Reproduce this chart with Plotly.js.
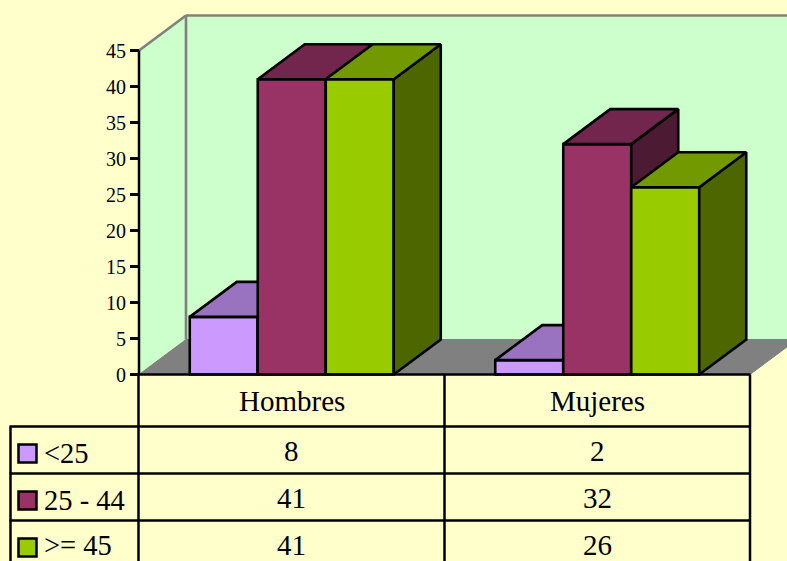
<!DOCTYPE html>
<html>
<head>
<meta charset="utf-8">
<script src="https://cdn.plot.ly/plotly-3.0.1.min.js"></script>
<style>html,body{margin:0;padding:0;background:#FFFFCC;overflow:hidden}</style>
</head>
<body>
<div id="chart" style="width:787px;height:561px"></div>
<script>
// Data
const categories = ['Hombres', 'Mujeres'];
const seriesNames = ['<25', '25 - 44', '>= 45'];
const under25 = [8, 2];
const from25to44 = [41, 32];
const over45 = [41, 26];
const yTicks = [0, 5, 10, 15, 20, 25, 30, 35, 40, 45];

// Colours
const frontColors = ['#CC99FF', '#993366', '#99CC00'];
const topColors = ['#9973BF', '#73264D', '#739900'];
const sideColors = ['#664D80', '#4D1A33', '#4D6600'];

// Geometry of the page
const W = 787, H = 561, FONT = '"Liberation Serif", "Times New Roman", serif';
const X0PX = 139, XPX = 305.5, Y0PX = 374.5, YPX = 7.2;
const BAR = 68 / XPX, DX = 47 / XPX, DY = 35 / YPX, YMAX = 45;
const xRange = [-X0PX / XPX, (W - X0PX) / XPX];
const yRange = [-(H - Y0PX) / YPX, Y0PX / YPX];
const NC = categories.length;
const px = x => x / W, py = y => 1 - y / H;

const allSeries = [under25, from25to44, over45];
const traces = [];
allSeries.forEach((vals, s) => {
  const suffix = s === 0 ? '' : String(s + 1);
  const xa = 'x' + suffix, ya = 'y' + suffix;
  const left = vals.map((v, c) => c + 0.5 + (s - 1.5) * BAR);
  const topX = [], topY = [], sideX = [], sideY = [];
  vals.forEach((v, c) => {
    const a = left[c], b = a + BAR;
    topX.push(a, a + DX, b + DX, b, a, null);
    topY.push(v, v + DY, v + DY, v, v, null);
    sideX.push(b, b + DX, b + DX, b, b, null);
    sideY.push(0, DY, v + DY, v, 0, null);
  });
  traces.push({
    type: 'bar', name: seriesNames[s], x: left.map(a => a + BAR / 2), y: vals, width: BAR,
    xaxis: xa, yaxis: ya, marker: {color: frontColors[s], line: {color: '#000', width: 2.6}},
    showlegend: false, hoverinfo: 'name+y'
  });
  traces.push({type: 'scatter', mode: 'lines', x: sideX, y: sideY, fill: 'toself', fillcolor: sideColors[s],
    line: {color: '#000', width: 2.6}, xaxis: xa, yaxis: ya, showlegend: false, hoverinfo: 'skip'});
  traces.push({type: 'scatter', mode: 'lines', x: topX, y: topY, fill: 'toself', fillcolor: topColors[s],
    line: {color: '#000', width: 2.6}, xaxis: xa, yaxis: ya, showlegend: false, hoverinfo: 'skip'});
});

// Walls and floor, in axis units
const poly = pts => 'M' + pts.map(p => p[0] + ',' + p[1]).join('L') + 'Z';
const grey = {color: '#808080', width: 2.6};
const shapes = [
  {type: 'path', layer: 'below', xref: 'x', yref: 'y', fillcolor: '#CCFFCC', line: {width: 0},
   path: poly([[DX, DY], [DX, YMAX + DY], [NC + DX, YMAX + DY], [NC + DX, DY]])},
  {type: 'path', layer: 'below', xref: 'x', yref: 'y', fillcolor: '#CCFFCC', line: {width: 0},
   path: poly([[0, 0], [0, YMAX], [DX, YMAX + DY], [DX, DY]])},
  {type: 'path', layer: 'below', xref: 'x', yref: 'y', fillcolor: '#808080', line: {color: '#808080', width: 1},
   path: poly([[0, 0], [DX, DY], [NC + DX, DY], [NC, 0]])},
  {type: 'line', layer: 'below', xref: 'x', yref: 'y', x0: 0, y0: YMAX, x1: DX, y1: YMAX + DY, line: grey},
  {type: 'line', layer: 'below', xref: 'x', yref: 'y', x0: DX, y0: YMAX + DY, x1: NC + DX, y1: YMAX + DY, line: grey},
  {type: 'line', layer: 'below', xref: 'x', yref: 'y', x0: DX, y0: DY, x1: DX, y1: YMAX + DY, line: grey}
];

// Data table lines
const black = {color: '#000', width: 2.5};
const rowY = [426.5, 473.5, 520.5];
const labelShift = [2.5, 2.5, 0.5];
const hLine = (x0, x1, y) => ({type: 'line', xref: 'paper', yref: 'paper', x0: px(x0), x1: px(x1), y0: py(y), y1: py(y), line: black});
const vLine = (x, y0, y1) => ({type: 'line', xref: 'paper', yref: 'paper', x0: px(x), x1: px(x), y0: py(y0), y1: py(y1), line: black});
shapes.push({type: 'line', xref: 'x', yref: 'y', x0: 0, x1: 0, y0: 0, y1: YMAX, line: black});
shapes.push(hLine(X0PX - 1, 750.5, Y0PX));
rowY.forEach(y => shapes.push(hLine(9.5, 750.5, y)));
shapes.push(vLine(10.5, rowY[0], H));
[138.5, 444.5, 750].forEach(x => shapes.push(vLine(x, Y0PX, H)));

// Table text
const annotations = [];
const label = (text, x, y, anchor, size) => annotations.push({
  text, x: px(x), y: py(y), xref: 'paper', yref: 'paper', xanchor: anchor || 'center', yanchor: 'middle',
  showarrow: false, borderpad: 0, font: {family: FONT, size: size || 29, color: '#000'}
});
const colX = [291.5, 597.5];
categories.forEach((c, i) => label(c, colX[i], 401));
allSeries.forEach((vals, s) => {
  const rowMid = rowY[s] + 24.5;
  vals.forEach((v, c) => label(String(v), colX[c], rowMid));
  label(seriesNames[s].replace('<', '&lt;').replace('>', '&gt;'), 43, rowMid + labelShift[s], 'left', 28.5);
  shapes.push({type: 'rect', xref: 'paper', yref: 'paper', x0: px(18.5), x1: px(36.5), y0: py(rowY[s] + 18), y1: py(rowY[s] + 36),
    fillcolor: frontColors[s], line: black});
});

const hiddenX = {range: xRange, visible: false, fixedrange: true};
const hiddenY = {range: yRange, visible: false, fixedrange: true};
const layout = {
  width: W, height: H, margin: {l: 0, r: 0, t: 0, b: 0, pad: 0},
  paper_bgcolor: '#FFFFCC', plot_bgcolor: '#FFFFCC', showlegend: false,
  barmode: 'overlay',
  xaxis: {range: xRange, visible: false, fixedrange: true},
  yaxis: {range: yRange, anchor: 'free', position: X0PX / W, side: 'left', showgrid: false, zeroline: false, showline: false,
    tickmode: 'array', tickvals: yTicks, ticktext: yTicks.map(String), ticks: 'outside', ticklen: 9, tickwidth: 2.5, tickcolor: '#000',
    tickfont: {family: FONT, size: 20, color: '#000'}, fixedrange: true},
  xaxis2: Object.assign({overlaying: 'x', anchor: 'y2'}, hiddenX),
  yaxis2: Object.assign({overlaying: 'y', anchor: 'x2'}, hiddenY),
  xaxis3: Object.assign({overlaying: 'x', anchor: 'y3'}, hiddenX),
  yaxis3: Object.assign({overlaying: 'y', anchor: 'x3'}, hiddenY),
  shapes, annotations
};
Plotly.newPlot('chart', traces, layout, {displayModeBar: false, staticPlot: true});
</script>
</body>
</html>
